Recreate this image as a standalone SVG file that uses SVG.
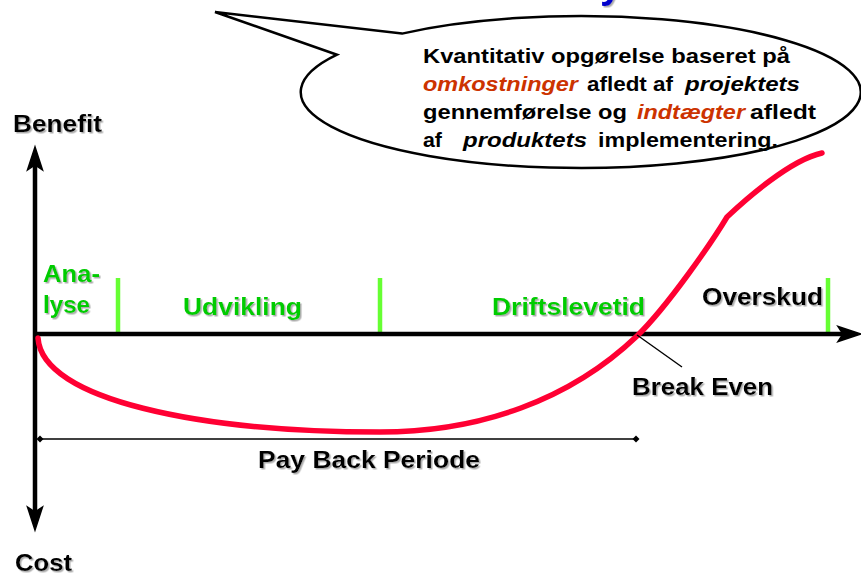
<svg xmlns="http://www.w3.org/2000/svg" width="861" height="575" viewBox="0 0 861 575">
  <style>
    text { font-family: "Liberation Sans", Arial, sans-serif; font-weight: bold; }
    .lbl { font-size: 24px; fill: #000; filter: url(#shade); }
    .phase { font-size: 24px; fill: #00cc00; filter: url(#shade); }
    .note { font-size: 21px; fill: #000; }
    .em { font-style: italic; }
    .hot { font-style: italic; fill: #cc3300; }
    .axis { stroke: #000; stroke-width: 4.5; fill: none; }
    .tick { stroke: #66ff33; stroke-width: 4.5; }
    .curve { stroke: #ff0033; stroke-width: 5.5; fill: none; stroke-linecap: round; stroke-linejoin: round; }
    .thin { stroke: #000; stroke-width: 1.4; fill: none; }
  </style>
  <defs>
    <filter id="shade" x="-10%" y="-20%" width="130%" height="150%">
      <feDropShadow dx="1.5" dy="1.5" stdDeviation="0.5" flood-color="#999" flood-opacity="0.8"/>
    </filter>
    <marker id="head" markerUnits="userSpaceOnUse" markerWidth="30" markerHeight="20" viewBox="-8 -10 30 20" refX="0" refY="0" orient="auto-start-reverse">
      <path d="M18,0 L-5,-7.5 L0,0 L-5,7.5 Z" fill="#000" stroke="#000" stroke-width="1.5" stroke-linejoin="miter"/>
    </marker>
    <marker id="dot" markerUnits="userSpaceOnUse" markerWidth="10" markerHeight="10" viewBox="-5 -5 10 10" refX="0" refY="0">
      <path d="M0,-3.5 L3.5,0 L0,3.5 L-3.5,0 Z" fill="#000"/>
    </marker>
  </defs>

  <rect width="861" height="575" fill="#fff"/>

  <!-- descender of the heading, which runs off the top edge -->
  <text x="600" y="-2" font-size="40" fill="#0000cc" filter="url(#shade)">y</text>

  <!-- phase dividers on the time axis -->
  <g id="phase-ticks">
    <line class="tick" x1="118" y1="278" x2="118" y2="334"/>
    <line class="tick" x1="380" y1="278" x2="380" y2="334"/>
    <line class="tick" x1="828" y1="278" x2="828" y2="334"/>
  </g>

  <!-- axes -->
  <g id="axes">
    <line class="axis" x1="35" y1="512" x2="35" y2="165" marker-start="url(#head)" marker-end="url(#head)"/>
    <line class="axis" x1="35" y1="334" x2="843" y2="334" marker-end="url(#head)"/>
  </g>

  <!-- cumulative cash-flow curve -->
  <g id="cashflow">
    <path class="curve" d="M38,338 C42,400 200,432 380,432 C480,432 570,400 637,336 C667,307 712,242 727,217 C745,200 790,160 822,153"/>
  </g>

  <g id="connectors">
    <line class="thin" x1="637" y1="335" x2="682" y2="367"/>
    <line class="thin" x1="40" y1="439" x2="636" y2="439" marker-start="url(#dot)" marker-end="url(#dot)"/>
  </g>

  <!-- speech balloon -->
  <g id="balloon">
    <path d="M402,33.6 A280,76 0 1 1 337,54.7 L215,12 Z" fill="#fff" stroke="#000" stroke-width="2.5" stroke-linejoin="miter"/>
    <text class="note" x="423" y="63" textLength="367" lengthAdjust="spacingAndGlyphs">Kvantitativ opgørelse baseret på</text>
    <text class="note" y="91"><tspan class="hot" x="423" textLength="155" lengthAdjust="spacingAndGlyphs">omkostninger</tspan><tspan x="587" textLength="86" lengthAdjust="spacingAndGlyphs">afledt af</tspan><tspan class="em" x="685" textLength="115" lengthAdjust="spacingAndGlyphs">projektets</tspan></text>
    <text class="note" y="119"><tspan x="423" textLength="204" lengthAdjust="spacingAndGlyphs">gennemførelse og</tspan><tspan class="hot" x="637" textLength="108" lengthAdjust="spacingAndGlyphs">indtægter</tspan><tspan x="750" textLength="66" lengthAdjust="spacingAndGlyphs">afledt</tspan></text>
    <text class="note" y="147"><tspan x="423" textLength="19" lengthAdjust="spacingAndGlyphs">af</tspan><tspan class="em" x="463" textLength="124" lengthAdjust="spacingAndGlyphs">produktets</tspan><tspan x="598" textLength="180" lengthAdjust="spacingAndGlyphs">implementering.</tspan></text>
  </g>

  <!-- axis and event labels -->
  <g id="label-benefit"><text class="lbl" x="13" y="132" textLength="89" lengthAdjust="spacingAndGlyphs">Benefit</text></g>
  <g id="label-cost"><text class="lbl" x="15" y="571" textLength="57" lengthAdjust="spacingAndGlyphs">Cost</text></g>
  <g id="label-overskud"><text class="lbl" x="702" y="305" textLength="121" lengthAdjust="spacingAndGlyphs">Overskud</text></g>
  <g id="label-break-even"><text class="lbl" x="632" y="395" textLength="141" lengthAdjust="spacingAndGlyphs">Break Even</text></g>
  <g id="label-payback"><text class="lbl" x="258" y="468" textLength="222" lengthAdjust="spacingAndGlyphs">Pay Back Periode</text></g>

  <!-- phase labels -->
  <g id="phase-analyse">
    <text class="phase" x="43" y="282" textLength="57" lengthAdjust="spacingAndGlyphs">Ana-</text>
    <text class="phase" x="43" y="313" textLength="47" lengthAdjust="spacingAndGlyphs">lyse</text>
  </g>
  <g id="phase-udvikling"><text class="phase" x="183" y="315" textLength="119" lengthAdjust="spacingAndGlyphs">Udvikling</text></g>
  <g id="phase-drift"><text class="phase" x="492" y="315" textLength="153" lengthAdjust="spacingAndGlyphs">Driftslevetid</text></g>
</svg>
